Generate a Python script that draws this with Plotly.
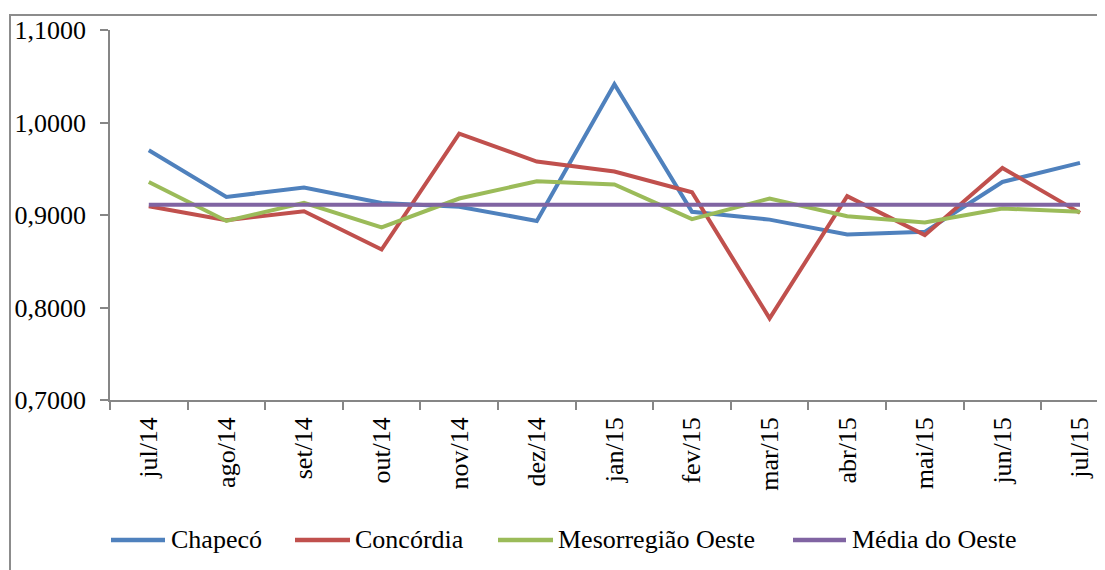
import plotly.graph_objects as go

categories = ["jul/14", "ago/14", "set/14", "out/14", "nov/14", "dez/14", "jan/15",
              "fev/15", "mar/15", "abr/15", "mai/15", "jun/15", "jul/15"]
chapeco = [0.9700, 0.9195, 0.9297, 0.9130, 0.9090, 0.8936, 1.0413,
           0.9034, 0.8950, 0.8790, 0.8818, 0.9357, 0.9563]
concordia = [0.9095, 0.8944, 0.9041, 0.8627, 0.9880, 0.9578, 0.9470,
             0.9246, 0.7882, 0.9203, 0.8782, 0.9509, 0.9023]
mesorregiao = [0.9357, 0.8936, 0.9131, 0.8865, 0.9178, 0.9365, 0.9330,
               0.8955, 0.9178, 0.8987, 0.8919, 0.9070, 0.9034]
media_oeste = [0.9110] * 13
series_names = ["Chapecó", "Concórdia", "Mesorregião Oeste", "Média do Oeste"]
colors = ["#4F81BD", "#C0504D", "#9BBB59", "#8064A2"]
series = [chapeco, concordia, mesorregiao, media_oeste]

OFF = 8  # page body margin of the html page
W, H = 1105 - OFF, 570 - OFF
ML, MT = 110 - OFF, 30 - OFF
PW = W - ML
MR = 0
PB = 400 - OFF          # plot bottom in figure px
MB = H - PB
PH = PB - MT
FONT = "'Liberation Serif', 'Times New Roman', serif"
GRAY = "#868686"


def px_x(px):
    # px given in page (viewport) coordinates
    return (px - OFF - ML) / PW


def px_y(py):
    return (PB - (py - OFF)) / PH


fig = go.Figure()
for name, vals, col in zip(series_names, series, colors):
    fig.add_trace(go.Scatter(x=categories, y=vals, mode="lines", name=name,
                             line=dict(color=col, width=4), showlegend=False))

shapes = [
    dict(type="rect", xref="paper", yref="paper",
         x0=px_x(10), x1=px_x(1130), y0=px_y(600), y1=px_y(15),
         line=dict(color="#8C8C8C", width=2), fillcolor="rgba(0,0,0,0)", layer="below"),
]
annotations = []
legend_lines = [(111, 165), (295, 350), (498, 553), (793, 846)]
legend_text_x = [171, 355, 558, 852]
ly = 540
for (a, b), tx, name, col in zip(legend_lines, legend_text_x, series_names, colors):
    shapes.append(dict(type="line", xref="paper", yref="paper",
                       x0=px_x(a), x1=px_x(b), y0=px_y(ly), y1=px_y(ly),
                       line=dict(color=col, width=4.5)))
    annotations.append(dict(xref="paper", yref="paper", x=px_x(tx - 2), y=px_y(ly - 1),
                            xanchor="left", yanchor="middle", text=name, showarrow=False,
                            font=dict(family=FONT, size=26, color="#000000")))

fig.update_layout(
    width=W, height=H,
    margin=dict(l=ML, r=MR, t=MT, b=MB, pad=0),
    paper_bgcolor="white", plot_bgcolor="white",
    separators=",.",
    showlegend=False,
    shapes=shapes,
    annotations=annotations,
    font=dict(family=FONT, size=26, color="#000000"),
)
fig.update_xaxes(
    type="category", range=[-0.5, -0.5 + PW / 77.6],
    showline=True, linecolor=GRAY, linewidth=1.5,
    ticks="outside", ticklen=8, tickcolor=GRAY, tickwidth=1.5, tickson="boundaries",
    tickangle=-90, showgrid=False, zeroline=False, ticklabelstandoff=5,
    tickfont=dict(family=FONT, size=26, color="#000000"),
)
fig.update_yaxes(
    range=[0.7, 1.1], tickvals=[0.7, 0.8, 0.9, 1.0, 1.1], tickformat=".4f",
    showline=True, linecolor=GRAY, linewidth=1.5,
    ticks="outside", ticklen=8, tickcolor=GRAY, tickwidth=1.5,
    showgrid=False, zeroline=False, ticklabelstandoff=9,
    tickfont=dict(family=FONT, size=26, color="#000000"),
)

fig.write_html("out.html")
